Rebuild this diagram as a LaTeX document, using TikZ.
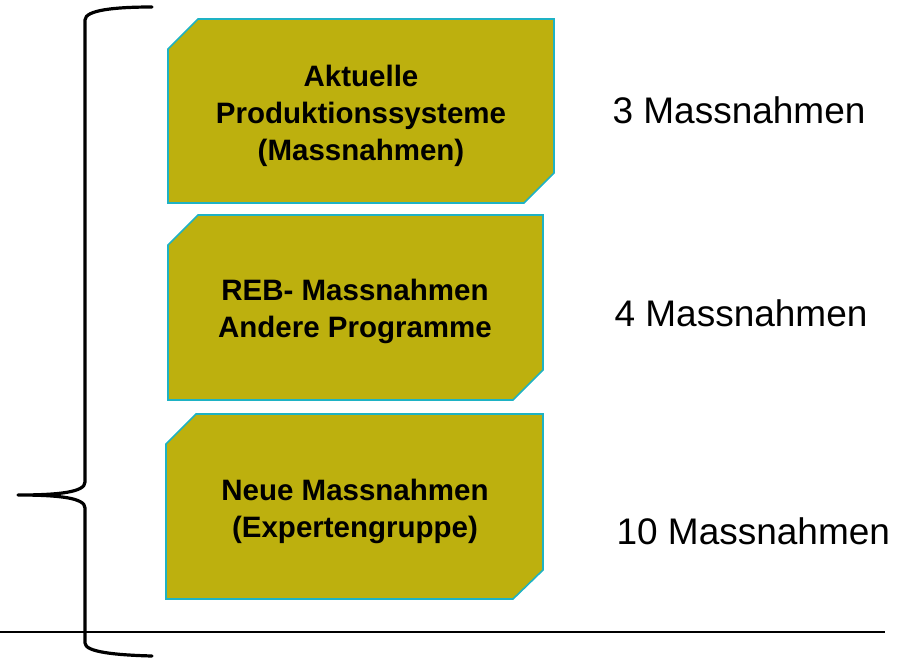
\documentclass[tikz,border=0pt]{standalone}
\usepackage{fontspec}
\setmainfont{Liberation Sans}
\definecolor{boxfill}{RGB}{189,176,14}
\definecolor{boxline}{RGB}{30,178,196}
\begin{document}
\begin{tikzpicture}[x=1pt,y=-1pt,
  panel/.style={fill=boxfill,draw=boxline,line width=1.6pt,line join=miter},
  paneltext/.style={align=center,font=\fontsize{29.5}{37}\selectfont\bfseries,text=black},
  count/.style={font=\fontsize{37}{44}\selectfont,text=black,anchor=west}]
\useasboundingbox (0,0) rectangle (906,657);
% boxes
\draw[panel] (168,49) -- (198,19) -- (554,19) -- (554,173) -- (524,203) -- (168,203) -- cycle;
\draw[panel] (168,245) -- (198,215) -- (543,215) -- (543,370) -- (513,400) -- (168,400) -- cycle;
\draw[panel] (166,444) -- (196,414) -- (543,414) -- (543,570) -- (513,599) -- (166,599) -- cycle;
\node[paneltext] (t1) at (361,116) {Aktuelle\\Produktionssysteme\\(Massnahmen)};
\node[paneltext] (t2) at (355,311) {REB- Massnahmen\\Andere Programme};
\node[paneltext] (t3) at (355,511) {Neue Massnahmen\\(Expertengruppe)};
% counts
\node[count] (c1) at (609,110) {3 Massnahmen};
\node[count] (c2) at (611,313) {4 Massnahmen};
\node[count] (c3) at (613,531) {10 Massnahmen};
% brace
\draw[line width=3.2pt,line cap=round,line join=round]
  (152,7) .. controls (115,7) and (85,10) .. (85,20) -- (85,482)
  .. controls (85,492) and (60,495) .. (18,495)
  .. controls (60,495) and (85,498) .. (85,508) -- (85,643)
  .. controls (85,652) and (115,655) .. (152,656);
% baseline
\draw[line width=1.5pt] (0,632) -- (885,632);
\end{tikzpicture}
\end{document}
